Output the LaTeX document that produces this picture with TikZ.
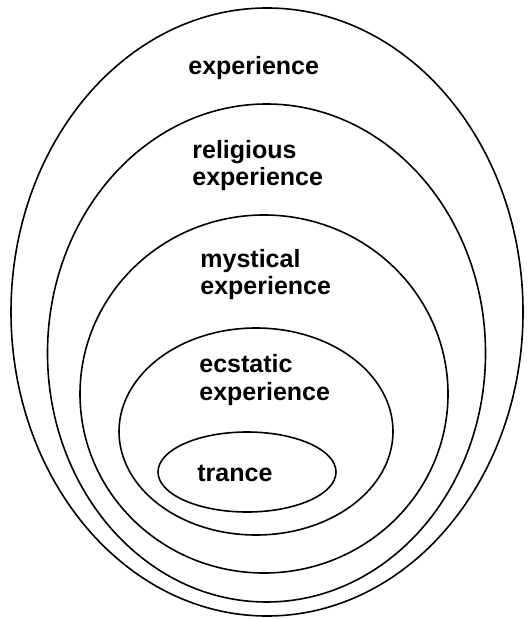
\documentclass[tikz,border=0pt]{standalone}
\usepackage{fontspec}
\setmainfont{Liberation Sans}
\tikzset{
    ring/.style={draw, line width=0.8pt},
    label/.style={anchor=base west, inner sep=0pt, align=left, font=\fontsize{12.5}{13.5}\selectfont\bfseries}
}
\begin{document}
\begin{tikzpicture}[x=0.5pt, y=-0.5pt]
    \useasboundingbox (0,0) rectangle (528,619);

    % nested ellipses, outermost first
    \draw[ring] (267,312) ellipse [x radius=256, y radius=304];
    \draw[ring] (266.5,353) ellipse [x radius=219, y radius=249];
    \draw[ring] (264,394) ellipse [x radius=184, y radius=179];
    \draw[ring] (256,431.5) ellipse [x radius=137, y radius=103.5];
    \draw[ring] (247,472) ellipse [x radius=89, y radius=40];

    % labels (base anchor sits on the last line)
    \node[label] (exp) at (188,75) {experience};
    \node[label] (rel) at (192,186) {religious\\experience};
    \node[label] (mys) at (200,295) {mystical\\experience};
    \node[label] (ecs) at (199,400) {ecstatic\\experience};
    \node[label] (tra) at (197,481) {trance};
\end{tikzpicture}
\end{document}
